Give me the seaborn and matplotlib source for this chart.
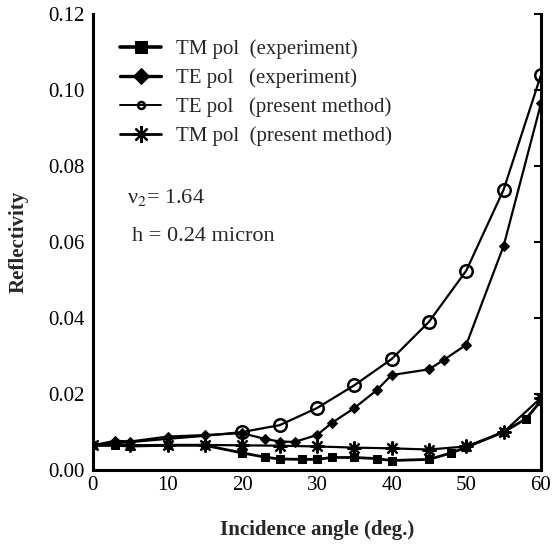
import matplotlib
matplotlib.use("Agg")
import matplotlib.pyplot as plt
import seaborn as sns
import pandas as pd

# angle (deg) / reflectivity
tm_exp_x = [0, 3, 5, 10, 15, 20, 23, 25, 28, 30, 32, 35, 38, 40, 45, 48, 50, 55, 58, 60]
tm_exp_y = [0.0065, 0.0065, 0.0063, 0.0065, 0.0065, 0.0045, 0.0034, 0.0029, 0.0028, 0.0028,
            0.0033, 0.0033, 0.0030, 0.0025, 0.0028, 0.0045, 0.0060, 0.0100, 0.0135, 0.0182]

te_exp_x = [0, 3, 5, 10, 15, 20, 23, 25, 27, 30, 32, 35, 38, 40, 45, 47, 50, 55, 60]
te_exp_y = [0.0065, 0.0077, 0.0075, 0.0088, 0.0092, 0.0097, 0.0082, 0.0075, 0.0074, 0.0092,
            0.0124, 0.0163, 0.0210, 0.0250, 0.0265, 0.0290, 0.0330, 0.0590, 0.0965]

te_th_x = [0, 10, 15, 20, 25, 30, 35, 40, 45, 50, 55, 60]
te_th_y = [0.0065, 0.0082, 0.0090, 0.0100, 0.0118, 0.0163, 0.0223, 0.0292, 0.0390,
           0.0525, 0.0738, 0.1040]

tm_th_x = [0, 5, 10, 15, 20, 25, 30, 35, 40, 45, 50, 55, 60]
tm_th_y = [0.0065, 0.0065, 0.0066, 0.0066, 0.0065, 0.0064, 0.0062, 0.0059, 0.0057, 0.0054,
           0.0062, 0.0100, 0.0190]

labels = ["TM pol  (experiment)", "TE pol   (experiment)",
          "TE pol   (present method)", "TM pol  (present method)"]

sns.set_style("white")
plt.rcParams["font.family"] = ["Liberation Serif", "DejaVu Serif"]
plt.rcParams["mathtext.fontset"] = "stix"

fig = plt.figure(figsize=(5.56, 5.44), dpi=100)
ax = fig.add_axes([0.167, 0.136, 0.806, 0.838])

asterisk = (8, 2, 0)
series = [
    (tm_exp_x, tm_exp_y, dict(marker="s", markersize=6, markerfacecolor="black", lw=2.0)),
    (te_exp_x, te_exp_y, dict(marker="D", markersize=5, markerfacecolor="black", lw=1.6)),
    (te_th_x, te_th_y, dict(marker="o", markersize=9, markerfacecolor="none",
                            markeredgewidth=1.8, lw=1.6, markevery=slice(3, None))),
    (tm_th_x, tm_th_y, dict(marker=asterisk, markersize=10, markeredgewidth=1.6, lw=1.6)),
]
for (xs, ys, kw), lab in zip(series, labels):
    df = pd.DataFrame({"angle": xs, "refl": ys})
    sns.lineplot(data=df, x="angle", y="refl", ax=ax, color="black",
                 markeredgecolor="black", label=lab, **kw)

ax.set_xlim(0, 60)
ax.set_ylim(0, 0.12)
ax.set_xticks(range(0, 61, 10))
ax.set_yticks([0, 0.02, 0.04, 0.06, 0.08, 0.10, 0.12])
ax.set_yticklabels(["0.00", "0.02", "0.04", "0.06", "0.08", "0.10", "0.12"])
ax.tick_params(direction="in", length=5, width=1.5, labelsize=15, colors="black")
ax.tick_params(axis="x", pad=4)
ax.tick_params(axis="y", right=True, pad=6, labelright=False)

for s in ["left", "bottom", "right"]:
    ax.spines[s].set_linewidth(2.2)
    ax.spines[s].set_color("black")
ax.spines["top"].set_visible(False)

ax.set_xlabel("Incidence angle (deg.)", fontsize=15, fontweight="bold", labelpad=18)
ax.set_ylabel("Reflectivity", fontsize=15, fontweight="bold", labelpad=14)

leg = ax.legend(loc="upper left", bbox_to_anchor=(0.06, 0.945), frameon=False,
                fontsize=15, handlelength=2.0, labelspacing=0.45, borderaxespad=0,
                borderpad=0, handletextpad=0.7, numpoints=1)
# legend handles: one marker in the middle of each handle
sizes = [8, 8, 5, 12]
widths = [2.6, 2.4, 1.4, 2.0]
for h, ms, lw in zip(leg.legend_handles, sizes, widths):
    h.set_markersize(ms)
    h.set_markevery([1])
    h.set_linewidth(lw)

ax.text(0.076, 0.598, r"ν$_2$= 1.64", transform=ax.transAxes, fontsize=16, va="center")
ax.text(0.087, 0.512, "h = 0.24 micron", transform=ax.transAxes, fontsize=16, va="center")

fig.savefig("out.png", dpi=100)
